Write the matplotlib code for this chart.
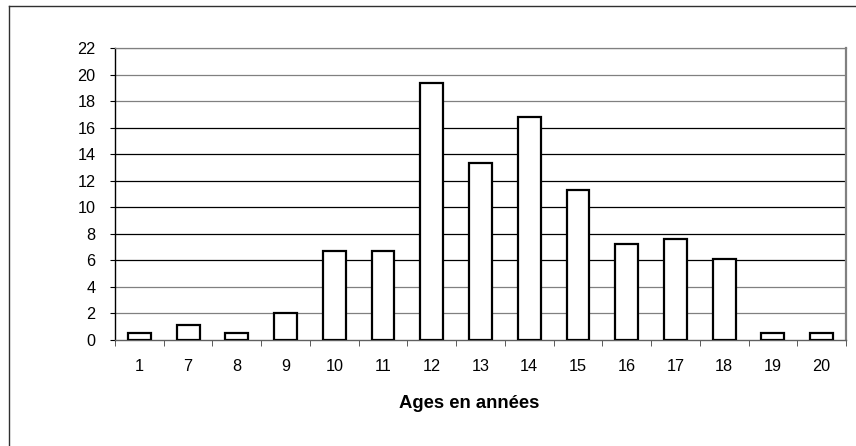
import matplotlib.pyplot as plt
from matplotlib.lines import Line2D

plt.rcParams['font.family'] = ['Liberation Sans', 'DejaVu Sans']

# data
ages = ['1', '7', '8', '9', '10', '11', '12', '13', '14', '15', '16', '17', '18', '19', '20']
values = [0.56, 1.1, 0.56, 2.05, 6.7, 6.7, 19.4, 13.3, 16.8, 11.3, 7.26, 7.6, 6.1, 0.56, 0.56]
y_ticks = list(range(0, 23, 2))

fig = plt.figure(figsize=(8.56, 4.46), dpi=100)
ax = fig.add_axes([115 / 856, 106 / 446, 731 / 856, 292 / 446])

x = list(range(len(ages)))

# horizontal grid (some lines render grey in the source)
grey_levels = {2, 4, 18, 20, 22}
for y in y_ticks[1:]:
    ax.axhline(y, color='#808080' if y in grey_levels else 'black', lw=0.9, zorder=1)

ax.bar(x, values, width=0.47, color='white', edgecolor='black', linewidth=1.6, zorder=3)

ax.set_xlim(-0.5, len(ages) - 0.5)
ax.set_ylim(0, 22)
ax.set_yticks(y_ticks)
ax.set_xticks(x)
ax.set_xticklabels(ages)
ax.set_xticks([i - 0.5 for i in range(len(ages) + 1)], minor=True)
ax.tick_params(axis='x', which='major', length=0, pad=14, labelsize=11.7)
ax.tick_params(axis='x', which='minor', length=4, direction='out', color='#404040')
ax.tick_params(axis='y', length=3.6, direction='out', pad=10.5, labelsize=11.7)

ax.spines['top'].set_color('#808080')
ax.spines['top'].set_linewidth(0.9)
ax.spines['right'].set_color('#808080')
ax.spines['right'].set_linewidth(1.6)
ax.spines['left'].set_color('black')
ax.spines['left'].set_linewidth(1.0)
ax.spines['bottom'].set_color('#606060')
ax.spines['bottom'].set_linewidth(1.0)

fig.text(469 / 856, 1 - 403.5 / 446, 'Ages en années', fontsize=13.3, fontweight='bold',
         ha='center', va='center')

# outer chart frame (only left and top edges are visible)
fig.add_artist(Line2D([8.5 / 856, 8.5 / 856], [0, 1 - 6 / 446], transform=fig.transFigure,
                      color='#303030', lw=1.0))
fig.add_artist(Line2D([8.5 / 856, 1], [1 - 6 / 446, 1 - 6 / 446], transform=fig.transFigure,
                      color='#303030', lw=1.0))

fig.savefig('out.png', dpi=100)
